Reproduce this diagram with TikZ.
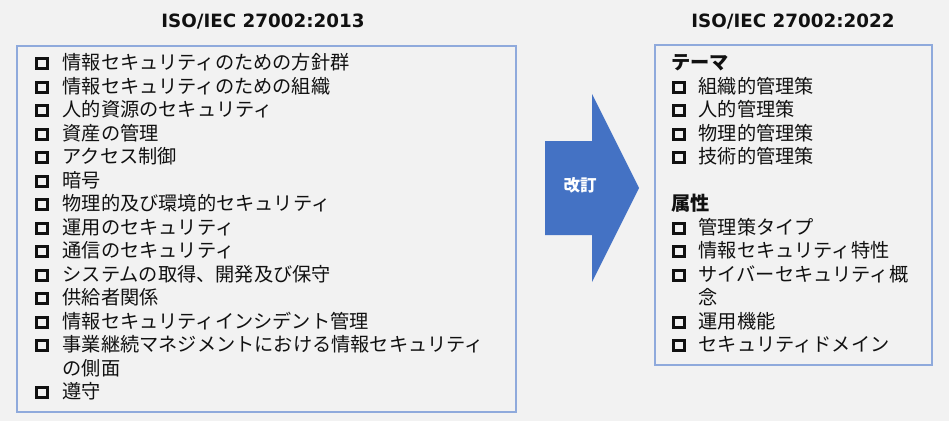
\documentclass[tikz,border=0pt]{standalone}
\usepackage{fontspec}
\newfontfamily\jpfont{Noto Sans CJK JP}
\newfontfamily\titlefont{DejaVu Sans}
\definecolor{bgcol}{HTML}{F2F2F2}
\definecolor{arrowcol}{HTML}{4472C4}
\definecolor{boxcol}{HTML}{8FAADC}
\definecolor{txtcol}{HTML}{111111}
\tikzset{
  x=1pt, y=-1pt,
  frame/.style={draw=boxcol, line width=1.3pt},
  titletext/.style={font=\titlefont\bfseries\fontsize{18.3}{20}\selectfont, text=txtcol, inner sep=0pt},
  itemtext/.style={font=\jpfont\fontsize{19.2}{22}\selectfont, text=txtcol, inner sep=0pt, anchor=base west},
  headtext/.style={font=\jpfont\bfseries\fontsize{19.2}{22}\selectfont, text=txtcol, inner sep=0pt, anchor=base west},
  bulletbox/.style={draw=txtcol, line width=3pt, minimum width=11.2pt, minimum height=10pt, inner sep=0pt, outer sep=0pt},
}
\begin{document}
\begin{tikzpicture}
\fill[bgcol] (0,0) rectangle (949,421);
\useasboundingbox (0,0) rectangle (949,421);
% titles
\node[titletext] (oldtitle) at (263,21.5) {ISO/IEC 27002:2013};
\node[titletext] (newtitle) at (793,21.5) {ISO/IEC 27002:2022};
% frames
\coordinate (oldnw) at (17,46);
\coordinate (oldse) at (516,412);
\coordinate (newnw) at (655,45);
\coordinate (newse) at (932,365);
\draw[frame] (oldnw) rectangle (oldse);
\draw[frame] (newnw) rectangle (newse);
% arrow
\fill[arrowcol] (545,141) -- (592,141) -- (592,94) -- (639,188) -- (592,282) -- (592,235) -- (545,235) -- cycle;
\node[font=\jpfont\bfseries\fontsize{16.5}{18}\selectfont, text=white, inner sep=0pt] (rev) at (580,185.5) {改訂};
% left list
\foreach \i/\t in {0/情報セキュリティのための方針群,1/情報セキュリティのための組織,2/人的資源のセキュリティ,3/資産の管理,4/アクセス制御,5/暗号,6/物理的及び環境的セキュリティ,7/運用のセキュリティ,8/通信のセキュリティ,9/システムの取得、開発及び保守,10/供給者関係,11/情報セキュリティインシデント管理,12/事業継続マネジメントにおける情報セキュリティ,14/遵守}{
  \node[bulletbox] (lb\i) at (42.3,63.5+23.5*\i) {};
  \node[itemtext] (lt\i) at (62.5,62.5+23.5*\i+7.2) {\t};
}
\node[itemtext] (lt13) at (62.5,62.5+23.5*13+7.2) {の側面};
% right list
\node[headtext] (rh0) at (671,62.5+7.2) {テーマ};
\node[headtext] (rh6) at (671,62.5+23.5*6+7.2) {属性};
\foreach \i/\t in {1/組織的管理策,2/人的管理策,3/物理的管理策,4/技術的管理策,7/管理策タイプ,8/情報セキュリティ特性,9/サイバーセキュリティ概,11/運用機能,12/セキュリティドメイン}{
  \node[bulletbox] (rb\i) at (678.8,63.5+23.5*\i) {};
  \node[itemtext] (rt\i) at (698.5,62.5+23.5*\i+7.2) {\t};
}
\node[itemtext] (rt10) at (698.5,62.5+23.5*10+7.2) {念};
\end{tikzpicture}
\end{document}
